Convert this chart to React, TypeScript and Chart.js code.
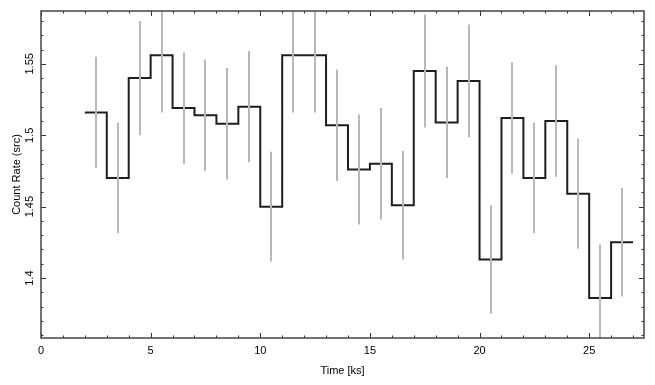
import React, { useEffect, useRef } from "react";
import { Chart, registerables } from "chart.js";

Chart.register(...registerables);

// ---- data ----
const binCenters = [2.5, 3.5, 4.5, 5.5, 6.5, 7.5, 8.5, 9.5, 10.5, 11.5, 12.5, 13.5, 14.5, 15.5, 16.5, 17.5, 18.5, 19.5, 20.5, 21.5, 22.5, 23.5, 24.5, 25.5, 26.5];
const countRates = [1.516, 1.470, 1.540, 1.556, 1.519, 1.514, 1.508, 1.520, 1.450, 1.556, 1.556, 1.507, 1.476, 1.480, 1.451, 1.545, 1.509, 1.538, 1.413, 1.512, 1.470, 1.510, 1.459, 1.386, 1.425];
const rateErrors = [0.039, 0.0385, 0.040, 0.040, 0.039, 0.039, 0.039, 0.039, 0.0385, 0.040, 0.040, 0.039, 0.0385, 0.039, 0.038, 0.0395, 0.039, 0.0395, 0.038, 0.039, 0.0385, 0.039, 0.0385, 0.0375, 0.038];
const binHalfWidth = 0.5;

const xTickValues = [0, 5, 10, 15, 20, 25];
const yTickValues = [1.4, 1.45, 1.5, 1.55];
const xMinorStep = 1;
const yMinorStep = 0.01;

const X_MIN = 0;
const X_MAX = 27.5;
const Y_MIN = 1.358;
const Y_MAX = 1.587;

const FONT_FAMILY = "'Liberation Sans', Arial, Helvetica, sans-serif";

const framePlugin = {
  id: "frameAndErrors",
  afterDatasetsDraw(chart: any) {
    const { ctx, chartArea: a, scales } = chart;
    const xs = scales.x;
    const ys = scales.y;

    // error bars
    ctx.save();
    ctx.beginPath();
    ctx.rect(a.left, a.top, a.right - a.left, a.bottom - a.top);
    ctx.clip();
    ctx.strokeStyle = "#b8b8b8";
    ctx.lineWidth = 2;
    ctx.beginPath();
    binCenters.forEach((c, i) => {
      const px = Math.round(xs.getPixelForValue(c));
      ctx.moveTo(px, ys.getPixelForValue(countRates[i] - rateErrors[i]));
      ctx.lineTo(px, ys.getPixelForValue(countRates[i] + rateErrors[i]));
    });
    ctx.stroke();
    ctx.restore();

    // tick marks (inward, all four sides)
    ctx.save();
    ctx.strokeStyle = "#333";
    ctx.lineWidth = 1;
    ctx.beginPath();
    const nX = Math.floor((X_MAX - X_MIN) / xMinorStep + 1e-6);
    for (let k = 0; k <= nX; k++) {
      const v = X_MIN + k * xMinorStep;
      const major = xTickValues.some((t) => Math.abs(t - v) < 1e-6);
      const len = major ? 5 : 2.5;
      const px = Math.round(xs.getPixelForValue(v)) + 0.5;
      ctx.moveTo(px, a.bottom);
      ctx.lineTo(px, a.bottom - len);
      ctx.moveTo(px, a.top);
      ctx.lineTo(px, a.top + len);
    }
    const yStart = Math.ceil(Y_MIN / yMinorStep - 1e-6);
    const yEnd = Math.floor(Y_MAX / yMinorStep + 1e-6);
    for (let k = yStart; k <= yEnd; k++) {
      const v = k * yMinorStep;
      const major = yTickValues.some((t) => Math.abs(t - v) < 1e-6);
      const len = major ? 5 : 2.5;
      const py = Math.round(ys.getPixelForValue(v)) + 0.5;
      ctx.moveTo(a.left, py);
      ctx.lineTo(a.left + len, py);
      ctx.moveTo(a.right, py);
      ctx.lineTo(a.right - len, py);
    }
    ctx.stroke();

    // frame
    ctx.strokeStyle = "#444";
    ctx.lineWidth = 1.5;
    ctx.strokeRect(a.left, a.top, a.right - a.left, a.bottom - a.top);
    ctx.restore();
  },
};

export default function App() {
  const canvasRef = useRef<HTMLCanvasElement | null>(null);

  useEffect(() => {
    if (!canvasRef.current) return;
    const stepData = binCenters.map((c, i) => ({ x: c - binHalfWidth, y: countRates[i] }));
    const last = binCenters.length - 1;
    stepData.push({ x: binCenters[last] + binHalfWidth, y: countRates[last] });

    const chart = new Chart(canvasRef.current, {
      type: "line",
      data: {
        datasets: [
          {
            data: stepData,
            stepped: true,
            borderColor: "#1e1e1e",
            borderWidth: 2,
            pointRadius: 0,
            fill: false,
            tension: 0,
          },
        ],
      },
      options: {
        responsive: false,
        animation: false,
        events: [],
        layout: { padding: { top: 11, right: 11, left: 0, bottom: 0 } },
        plugins: {
          legend: { display: false },
          tooltip: { enabled: false },
        },
        scales: {
          x: {
            type: "linear",
            min: X_MIN,
            max: X_MAX,
            grid: { display: false, drawTicks: false },
            border: { display: false },
            afterBuildTicks: (scale: any) => {
              scale.ticks = xTickValues.map((v) => ({ value: v }));
            },
            afterFit: (scale: any) => {
              scale.height = 47;
            },
            ticks: {
              padding: 6,
              color: "#000",
              font: { family: FONT_FAMILY, size: 11 },
              maxRotation: 0,
              autoSkip: false,
              callback: (v: any) => String(v),
            },
            title: {
              display: true,
              text: "Time [ks]",
              color: "#000",
              font: { family: FONT_FAMILY, size: 11 },
              padding: { top: 0, bottom: 7 },
            },
          },
          y: {
            type: "linear",
            min: Y_MIN,
            max: Y_MAX,
            grid: { display: false, drawTicks: false },
            border: { display: false },
            afterBuildTicks: (scale: any) => {
              scale.ticks = yTickValues.map((v) => ({ value: v }));
            },
            afterFit: (scale: any) => {
              scale.width = 41;
            },
            ticks: {
              padding: 0,
              color: "#000",
              minRotation: 90,
              maxRotation: 90,
              crossAlign: "center",
              autoSkip: false,
              font: { family: FONT_FAMILY, size: 11 },
              callback: (v: any) => String(Number(Number(v).toFixed(3))),
            },
            title: {
              display: true,
              text: "Count Rate (src)",
              color: "#000",
              font: { family: FONT_FAMILY, size: 11 },
              padding: { top: 10, bottom: 0 },
            },
          },
        },
      },
      plugins: [framePlugin],
    });
    return () => chart.destroy();
  }, []);

  return (
    <div style={{ position: "absolute", left: 0, top: 0, width: 655, height: 385, background: "#fff" }}>
      <canvas ref={canvasRef} width={655} height={385} style={{ display: "block" }} />
    </div>
  );
}
